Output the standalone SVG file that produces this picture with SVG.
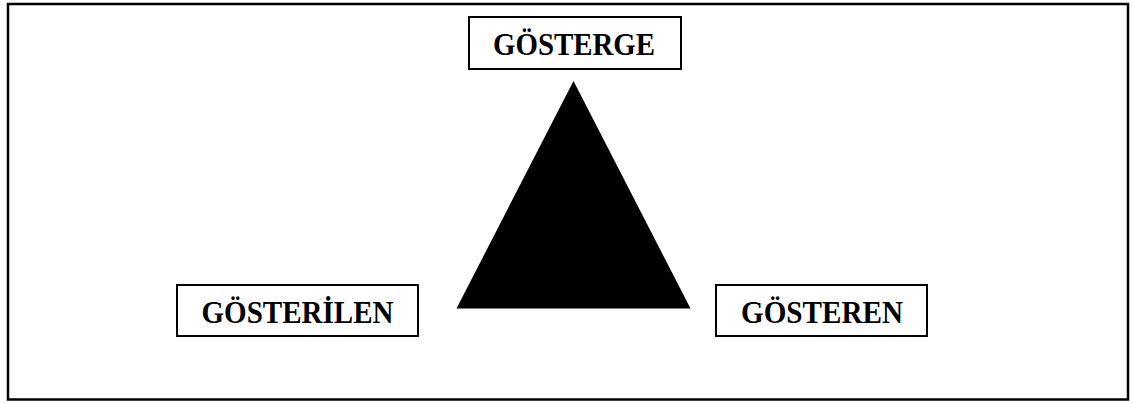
<svg xmlns="http://www.w3.org/2000/svg" width="1132" height="403" viewBox="0 0 1132 403">
  <style>
    .box { fill: #fff; stroke: #000; stroke-width: 2; }
    .lbl { font-family: "Liberation Serif", "Times New Roman", serif; font-weight: bold; font-size: 32px; fill: #000; text-anchor: middle; }
  </style>
  <rect x="0" y="0" width="1132" height="403" fill="#fff"/>
  <rect id="frame" x="8" y="4" width="1120" height="395.5" fill="none" stroke="#000" stroke-width="2.5"/>
  <g id="connectors">
    <polygon id="triangle" points="573.5,81 456.5,308.5 690.5,308.5" fill="#000"/>
  </g>
  <g id="gosterge">
    <rect class="box" x="469" y="17" width="212" height="52"/>
    <text class="lbl" x="574" y="55" textLength="162" lengthAdjust="spacingAndGlyphs">GÖSTERGE</text>
  </g>
  <g id="gosterilen">
    <rect class="box" x="177" y="285" width="241" height="51"/>
    <text class="lbl" x="297.5" y="323" textLength="192" lengthAdjust="spacingAndGlyphs">GÖSTERİLEN</text>
  </g>
  <g id="gosteren">
    <rect class="box" x="716" y="285" width="211" height="51"/>
    <text class="lbl" x="822" y="323" textLength="162" lengthAdjust="spacingAndGlyphs">GÖSTEREN</text>
  </g>
</svg>
